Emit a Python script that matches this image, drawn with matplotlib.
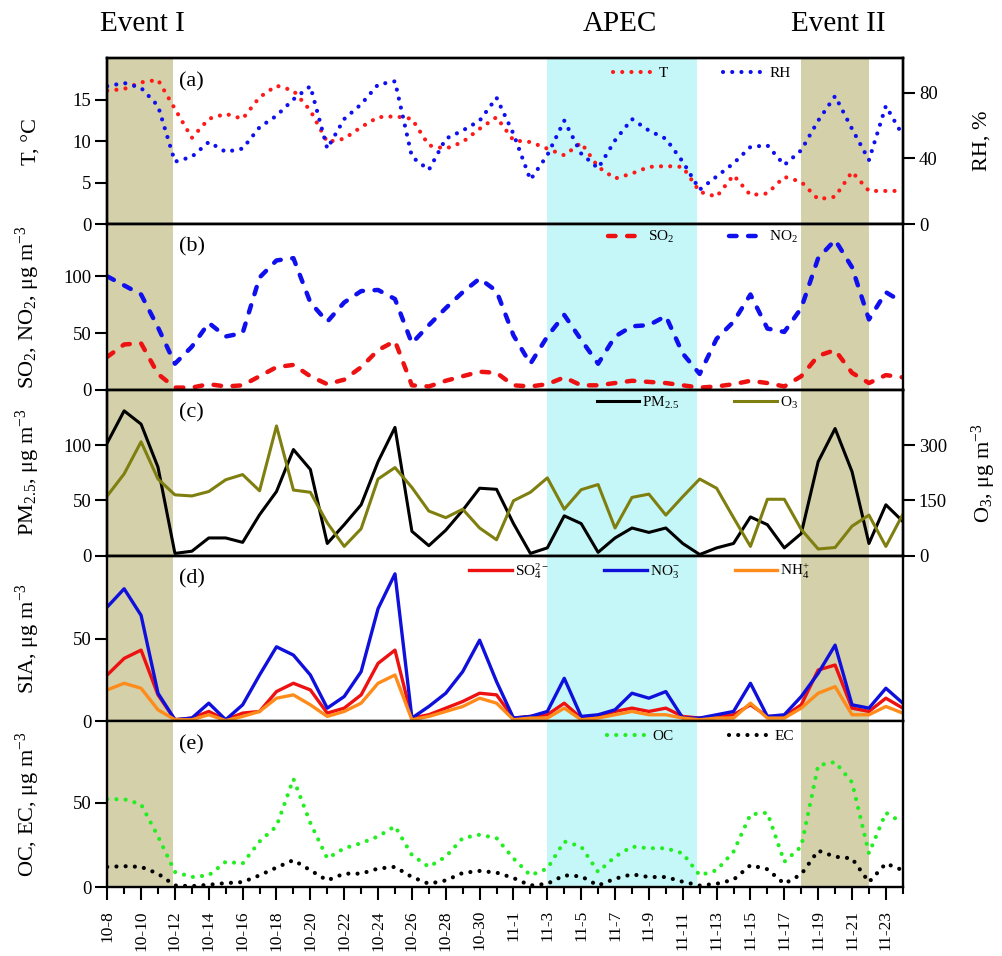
import numpy as np
import matplotlib
matplotlib.use('Agg')
import matplotlib.pyplot as plt
import matplotlib.transforms as mtransforms

plt.rcParams['font.family'] = ['Liberation Serif', 'DejaVu Serif']
plt.rcParams['mathtext.fontset'] = 'custom'
plt.rcParams['mathtext.rm'] = 'Liberation Serif'
plt.rcParams['mathtext.it'] = 'Liberation Serif:italic'
plt.rcParams['mathtext.bf'] = 'Liberation Serif:bold'

# daily samples, 10-8 .. 11-24
tick_labels = ['10-8', '10-10', '10-12', '10-14', '10-16', '10-18', '10-20', '10-22',
               '10-24', '10-26', '10-28', '10-30', '11-1', '11-3', '11-5', '11-7',
               '11-9', '11-11', '11-13', '11-15', '11-17', '11-19', '11-21', '11-23']

temp = [16.1, 16.3, 17.1, 17.4, 13.9, 10.4, 12.7, 13.3, 12.7, 15.3, 16.7, 16.1,
        13.7, 9.9, 10.3, 11.7, 12.9, 13.0, 12.7, 9.5, 9.1, 9.9, 11.5, 12.9,
        10.1, 9.9, 9.1, 8.3, 9.8, 6.9, 5.5, 6.1, 6.9, 7.0, 6.9, 3.9,
        3.3, 5.9, 3.5, 3.7, 5.7, 5.1, 3.0, 3.3, 6.3, 4.0, 4.0, 4.0]
rh = [84, 86, 83, 72, 38, 41, 50, 44, 46, 59, 66, 76,
      84, 46, 64, 73, 85, 87, 41, 33, 52, 57, 63, 77,
      55, 27, 42, 63, 43, 34, 51, 64, 57, 52, 38, 21,
      29, 37, 47, 48, 36, 45, 63, 78, 58, 39, 72, 54]

so2 = [29, 40, 41, 14, 2, 2, 5, 3, 4, 12, 20, 22,
       12, 5, 9, 20, 35, 43, 4, 3, 8, 12, 16, 15,
       4, 3, 5, 11, 4, 4, 6, 8, 7, 6, 4, 2,
       3, 5, 8, 6, 3, 12, 30, 35, 15, 6, 13, 11]
no2 = [100, 92, 84, 55, 23, 38, 59, 47, 50, 99, 114, 116,
       77, 60, 77, 87, 88, 80, 41, 57, 72, 86, 98, 87,
       48, 23, 47, 66, 44, 23, 47, 56, 57, 65, 32, 14,
       45, 60, 84, 54, 51, 72, 116, 132, 108, 62, 86, 77]

pm25 = [102, 131, 119, 80, 2, 4, 16, 16, 12, 37, 58, 96,
        78, 11, 28, 46, 85, 116, 22, 9, 23, 41, 61, 60,
        29, 2, 7, 36, 29, 3, 16, 25, 21, 25, 11, 1,
        7, 11, 35, 28, 7, 20, 85, 115, 76, 11, 46, 31]
o3 = [162, 222, 309, 208, 165, 162, 174, 206, 220, 176, 352, 178,
      172, 89, 25, 73, 208, 239, 185, 121, 103, 126, 75, 43,
      149, 172, 211, 126, 179, 193, 75, 158, 167, 110, 160, 208,
      183, 103, 25, 153, 153, 71, 18, 22, 80, 110, 25, 112]

so4 = [28, 38, 43, 16, 1, 2, 6, 1, 5, 6, 18, 23,
       19, 5, 8, 16, 35, 43, 2, 4, 8, 12, 17, 16,
       2, 3, 4, 11, 2, 3, 6, 8, 6, 8, 3, 2,
       3, 4, 10, 3, 3, 10, 31, 34, 8, 6, 14, 8]
no3 = [69, 80, 64, 17, 1, 2, 11, 1, 10, 28, 45, 40,
       28, 8, 15, 30, 68, 89, 2, 9, 17, 30, 49, 24,
       2, 3, 6, 26, 3, 4, 7, 17, 14, 18, 2, 2,
       4, 6, 23, 3, 4, 15, 29, 46, 10, 8, 20, 11]
nh4 = [19, 23, 20, 7, 1, 1, 4, 0.5, 3, 6, 14, 16,
       10, 3, 6, 11, 23, 28, 1, 3, 6, 9, 14, 11,
       1, 2, 2, 8, 1, 2, 4, 6, 4, 4, 2, 1,
       2, 2, 11, 2, 2, 8, 17, 21, 4, 4, 9, 5]

oc = [52, 52, 49, 30, 9, 6, 7, 15, 14, 27, 36, 64,
      38, 17, 23, 26, 30, 36, 19, 12, 18, 29, 31, 29,
      17, 7, 11, 27, 24, 9, 18, 24, 23, 23, 20, 7,
      10, 21, 43, 44, 15, 24, 72, 74, 62, 20, 44, 38]
ec = [12, 12.4, 12, 8, 1, 0.6, 1.4, 2.4, 3, 7, 11.6, 16,
      10, 4, 8, 8, 11, 12, 6, 2, 4, 8.4, 9.6, 8.6,
      5.4, 1, 2, 7, 6.4, 1, 5, 7.6, 6, 6, 3.2, 1,
      2, 4.4, 13, 10.6, 2, 7.6, 21.6, 18, 17, 3, 14, 10]

# shaded periods (day index)
event1 = (0, 3.9)
apec = (26, 34.85)
event2 = (41, 45)

x = np.arange(len(temp))
DOT = dict(lw=3, ls=(0, (0.01, 2.2)), dash_capstyle='round')
DASH = dict(lw=3.2, ls=(0, (1.7, 2.6)), dash_capstyle='round')
EV_COLOR = '#d3d0aa'
APEC_COLOR = '#c6f7f8'

fig, axes = plt.subplots(5, 1, figsize=(10.02, 9.56), dpi=100, sharex=True)
fig.subplots_adjust(left=0.107, right=0.901, top=0.939, bottom=0.072, hspace=0)


def style(ax):
    for s in ax.spines.values():
        s.set_linewidth(1.7)
    ax.tick_params(axis='y', direction='out', length=8.5, width=1.5, labelsize=13.5, pad=3)
    ax.tick_params(axis='x', which='both', bottom=False, labelbottom=False)


def shade(ax):
    ax.axvspan(*event1, color=EV_COLOR, lw=0, zorder=0)
    ax.axvspan(*apec, color=APEC_COLOR, lw=0, zorder=0)
    ax.axvspan(*event2, color=EV_COLOR, lw=0, zorder=0)


def legend(ax, handles, x0, y0, ncol, colsp, hl=2.8):
    ax.legend(handles=handles, loc='upper left', bbox_to_anchor=(x0, y0), ncol=ncol,
              frameon=False, fontsize=11, handlelength=hl, handletextpad=0.2,
              columnspacing=colsp, borderpad=0, borderaxespad=0)


ylab = dict(fontsize=16)

# (a) T and RH
ax = axes[0]
shade(ax)
l1, = ax.plot(x, temp, color='#ff1a1a', label='T', **DOT)
ax.set_ylim(0, 20)
ax.set_yticks([0, 5, 10, 15])
ax.set_ylabel('T, °C', **ylab)
ax2 = ax.twinx()
l2, = ax2.plot(x, rh, color='#1010ee', label='RH', **DOT)
ax2.set_ylim(0, 101)
ax2.set_yticks([0, 40, 80])
ax2.set_ylabel('RH, %', **ylab)
style(ax)
style(ax2)
ax2.yaxis.set_label_coords(1.088, 0.5)
legend(ax2, [l1, l2], 0.636, 0.95, 2, 3.6)

# (b) SO2, NO2
ax = axes[1]
shade(ax)
l1, = ax.plot(x, so2, color='#ee1111', label='SO$_2$', **DASH)
l2, = ax.plot(x, no2, color='#1010ee', label='NO$_2$', **DASH)
ax.set_ylim(0, 146)
ax.set_yticks([0, 50, 100])
ax.set_ylabel('SO$_2$, NO$_2$, μg m$^{-3}$', **ylab)
style(ax)
legend(ax, [l1, l2], 0.63, 0.97, 2, 3.6, hl=2.4)

# (c) PM2.5, O3
ax = axes[2]
shade(ax)
l1, = ax.plot(x, pm25, color='black', lw=2.2, label='PM$_{2.5}$')
ax.set_ylim(0, 150)
ax.set_yticks([0, 50, 100])
ax.set_ylabel('PM$_{2.5}$, μg m$^{-3}$', **ylab)
ax2 = ax.twinx()
l2, = ax2.plot(x, o3, color='#7f7f10', lw=2.2, label='O$_3$')
ax2.set_ylim(0, 450)
ax2.set_yticks([0, 150, 300])
ax2.set_ylabel('O$_3$, μg m$^{-3}$', **ylab)
style(ax)
style(ax2)
ax2.yaxis.set_label_coords(1.084, 0.5)
legend(ax2, [l1, l2], 0.615, 0.97, 2, 3.6)

# (d) SIA
ax = axes[3]
shade(ax)
l1, = ax.plot(x, so4, color='#ee1111', lw=2.4, label='SO$_4^{2-}$')
l2, = ax.plot(x, no3, color='#1010dd', lw=2.4, label='NO$_3^{-}$')
l3, = ax.plot(x, nh4, color='#ff8c1a', lw=2.4, label='NH$_4^{+}$')
ax.set_ylim(0, 100)
ax.set_yticks([0, 50])
ax.set_ylabel('SIA, μg m$^{-3}$', **ylab)
style(ax)
legend(ax, [l1, l2, l3], 0.455, 0.97, 3, 3.6)

# (e) OC, EC
ax = axes[4]
shade(ax)
l1, = ax.plot(x, oc, color='#22ee22', label='OC', **DOT)
l2, = ax.plot(x, ec, color='black', label='EC', **DOT)
ax.set_ylim(0, 98)
ax.set_yticks([0, 50])
ax.set_ylabel('OC, EC, μg m$^{-3}$', **ylab)
style(ax)
legend(ax, [l1, l2], 0.628, 0.95, 2, 3.6)

ax.set_xlim(0, len(x) - 1)
ax.set_xticks(x[::2])
ax.set_xticklabels(tick_labels, rotation=90)
ax.set_xticks(x, minor=True)
ax.tick_params(axis='x', which='major', bottom=True, labelbottom=True, direction='out',
               length=9.5, width=1.5, labelsize=12.5, pad=7)
ax.tick_params(axis='x', which='minor', bottom=True, direction='out', length=5, width=1.5)

for ax, lab in zip(axes, ['(a)', '(b)', '(c)', '(d)', '(e)']):
    ax.yaxis.set_label_coords(-0.082, 0.5)
    ax.text(0.09, 0.86, lab, transform=ax.transAxes, fontsize=16, va='center', ha='left')

trans = mtransforms.blended_transform_factory(axes[0].transData, axes[0].transAxes)
for xpos, txt in [(2.1, 'Event I'), (30.3, 'APEC'), (43.2, 'Event II')]:
    axes[0].text(xpos, 1.21, txt, transform=trans, fontsize=21, ha='center', va='center')

fig.savefig('out.png', dpi=100)
